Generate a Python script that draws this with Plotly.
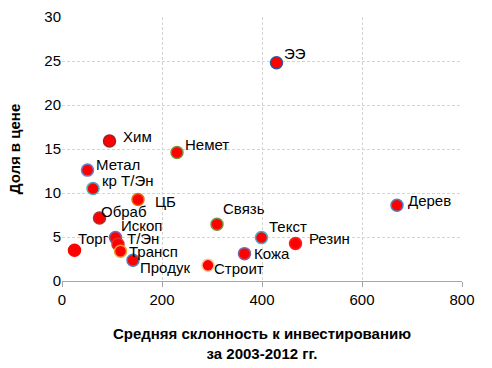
import plotly.graph_objects as go

# Data
labels = ["ЭЭ", "Дерев", "Хим", "Немет", "Метал", "кр Т/Эн", "ЦБ", "Обраб", "Ископ",
          "Т/Эн", "Трансп", "Продук", "Торг", "Связь", "Текст", "Резин", "Кожа", "Строит"]
x_vals = [429, 670, 95, 230, 51, 62, 152, 75, 107, 112, 117, 142, 25, 310, 399, 467, 365, 292]
y_vals = [24.8, 8.6, 15.9, 14.6, 12.6, 10.5, 9.25, 7.16, 4.93, 4.17, 3.38, 2.35, 3.49, 6.44, 4.93, 4.25, 3.11, 1.78]
x_ticks = [0, 200, 400, 600, 800]
y_ticks = [0, 5, 10, 15, 20, 25, 30]

# Styles
outline_colors = ["#2F5597", "#4F81BD", "#A02020", "#77933C", "#6A7FC8", "#4BACC6", "#E46C0A", "#B03030", "#8064A2",
                  "#E03030", "#F0A030", "#4F81BD", "#FF0000", "#77933C", "#4BACC6", "#FF2020", "#8064A2", "#FAC090"]
label_dx = [5, 9, 11, 6, 6, 7, 15, -1, 3, 7, 6, 5, 1, 4, 5, 11, 7, 4]
label_dy = [-9, -5, -5, -8, -6, -8, 2, -6, -12, -5.5, 0, 7, -11.5, -15.5, -11, -5, 0, 3]

FONT = "Liberation Sans, Arial, sans-serif"
GRID_DASH = "3px,2px"

fig = go.Figure()
fig.add_trace(go.Scatter(
    x=x_vals, y=y_vals, mode="markers",
    marker=dict(size=12, color="#FF0000", line=dict(width=1.5, color=outline_colors)),
    hoverinfo="text", text=labels,
))

annotations = []
for lab, xv, yv, dx, dy in zip(labels, x_vals, y_vals, label_dx, label_dy):
    annotations.append(dict(
        x=xv, y=yv, xref="x", yref="y", text=lab, showarrow=False,
        xanchor="left", yanchor="middle", xshift=dx, yshift=-dy,
        font=dict(family=FONT, size=15, color="#000000"),
    ))

fig.update_layout(
    width=492, height=368,
    margin=dict(l=62, r=30, t=17, b=87),
    paper_bgcolor="white", plot_bgcolor="white",
    showlegend=False,
    font=dict(family=FONT, size=15, color="#000000"),
    annotations=annotations,
    xaxis=dict(
        range=[0, 800], tickvals=x_ticks, ticktext=[str(v) for v in x_ticks],
        showgrid=True, gridcolor="#D4D4D4", griddash=GRID_DASH, gridwidth=1,
        zeroline=False, showline=True, linecolor="#A6A6A6", linewidth=1,
        ticks="outside", ticklen=5, tickcolor="#A6A6A6",
        tickfont=dict(family=FONT, size=15), automargin=False,
        title=dict(text="<b>Средняя склонность к инвестированию<br>за 2003-2012 гг.</b>",
                   font=dict(family=FONT, size=15), standoff=21),
    ),
    yaxis=dict(
        range=[0, 30], tickvals=y_ticks, ticktext=[str(v) for v in y_ticks],
        showgrid=True, gridcolor="#D4D4D4", griddash=GRID_DASH, gridwidth=1,
        zeroline=False, showline=False, automargin=False,
        ticks="", tickfont=dict(family=FONT, size=15),
        title=dict(text="<b>Доля в цене</b>", font=dict(family=FONT, size=15), standoff=20),
    ),
)

fig.write_html("out.html", config={"displayModeBar": False},
               post_script="document.body.style.margin='0';document.body.style.overflow='hidden';")
